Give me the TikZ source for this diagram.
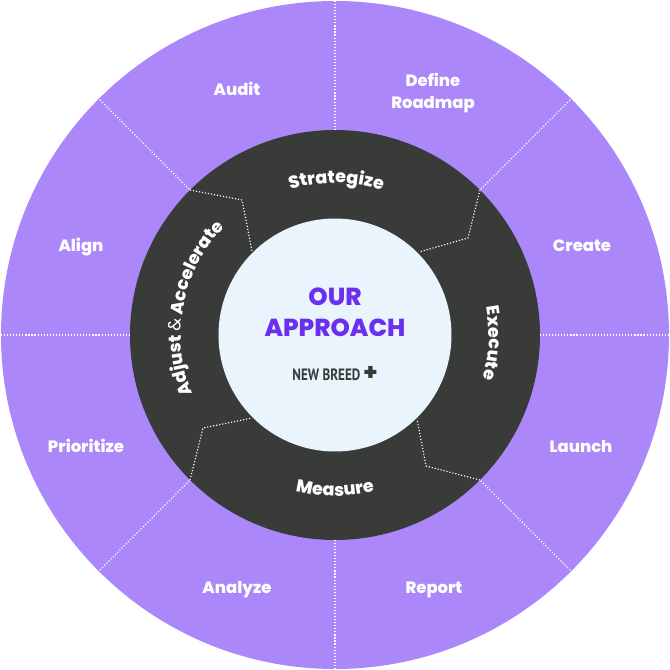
\documentclass[tikz,border=0pt]{standalone}
\usepackage{fontspec}
\setmainfont{Poppins}[BoldFont={Poppins ExtraBold}]
\newfontfamily\narrowfont[FakeStretch=0.8]{PT Sans}
\usetikzlibrary{decorations.text}

\definecolor{lavender}{HTML}{AB87FA}
\definecolor{ringgray}{HTML}{393B38}
\definecolor{corepale}{HTML}{EAF4FD}
\definecolor{corepurple}{HTML}{6B2FEF}

\newcommand{\ringbold}{\bfseries\fontsize{15}{16}\selectfont\color{white}}
\newcommand{\ringlight}{\mdseries\fontsize{15}{16}\selectfont\color{white}}

\tikzset{
    phase/.style={font=\bfseries\fontsize{14}{18.7}\selectfont, text=white, align=center, inner sep=0pt},
    spoke/.style={white, line width=1pt, dash pattern=on 1pt off 1.6pt},
    ringtext/.style={decorate, decoration={text along path, text align=center, text={#1}}}
}

\begin{document}
\begin{tikzpicture}[scale=0.3]
    \useasboundingbox (-33.5,-33.5) rectangle (33.5,33.5);

    % Discs
    \fill[lavender] (0,0) circle (33.4);
    \fill[ringgray] (0,0) circle (20.5);
    \fill[corepale] (0,0) circle (11.65);

    % Rim and ring points of the spokes
    \foreach \name/\x/\y in {rimN/0/33.4, ringN/0/20.5, rimS/0/-33.4, ringS/0/-20.5,
                             rimW/-33.4/0, ringW/-20.5/0, rimE/33.4/0, ringE/20.5/0,
                             rimNW/-23.5/23.5, ringNW/-14.5/14.5, rimNE/23.5/23.5, ringNE/14.5/14.5,
                             rimSW/-23.5/-23.5, ringSW/-14.5/-14.5, rimSE/23.5/-23.5, ringSE/14.5/-14.5} {
        \coordinate (\name) at (\x,\y);
    }

    % Kinks of the ring dividers
    \coordinate (kinkNW) at (-9.3,13.5);
    \coordinate (coreNW) at (-8.3,8.4);
    \coordinate (kinkNE) at (13.3,9.7);
    \coordinate (coreNE) at (8.4,8.3);
    \coordinate (kinkSE) at (9.1,-13.1);
    \coordinate (coreSE) at (8.2,-8.4);
    \coordinate (kinkSW) at (-13.2,-9.3);
    \coordinate (coreSW) at (-8.3,-8.3);

    % Spokes
    \foreach \dir in {N,S,W,E,NW,NE,SW,SE} {
        \draw[spoke] (rim\dir) -- (ring\dir);
    }
    \foreach \dir in {NW,NE,SE,SW} {
        \draw[spoke] (ring\dir) -- (kink\dir) -- (core\dir);
    }

    % Outer labels
    \foreach \name/\x/\y/\txt in {audit/-9.8/24.6/Audit, roadmap/9.8/24.2/{Define\\Roadmap},
                                  create/24.7/8.9/Create, launch/24.6/-11.1/Launch,
                                  report/9.9/-25.5/Report, analyze/-9.8/-25.5/Analyze,
                                  prioritize/-24.9/-11.1/Prioritize, align/-25.4/8.8/Align} {
        \node[phase] (\name) at (\x,\y) {\txt};
    }

    % Ring labels
    \path[ringtext={|\ringbold|Strategize}]
        (124.5:15.2) arc[start angle=124.5, end angle=54.5, radius=15.2];
    \path[ringtext={|\ringbold|Execute}]
        (38:15.4) arc[start angle=38, end angle=-44, radius=15.4];
    \path[ringtext={|\ringbold|Measure}]
        (-125:16.1) arc[start angle=-125, end angle=-55, radius=16.1];
    \path[ringtext={|\ringbold|Adjust |\ringlight|{\&}|\ringbold| Accelerate}]
        (-131:15.4) arc[start angle=-131, delta angle=-120, radius=15.4];

    % Core labels
    \node[font=\bfseries\fontsize{21}{26.4}\selectfont, text=corepurple, align=center, inner sep=0pt] (approach) at (0,2.3) {OUR\\APPROACH};
    \node[font=\narrowfont\bfseries\fontsize{14}{16}\selectfont, text=ringgray, inner sep=0pt] (brand) at (0,-3.9) {NEW BREED {\normalfont\bfseries\fontsize{20}{16}\selectfont+}};

\end{tikzpicture}
\end{document}
